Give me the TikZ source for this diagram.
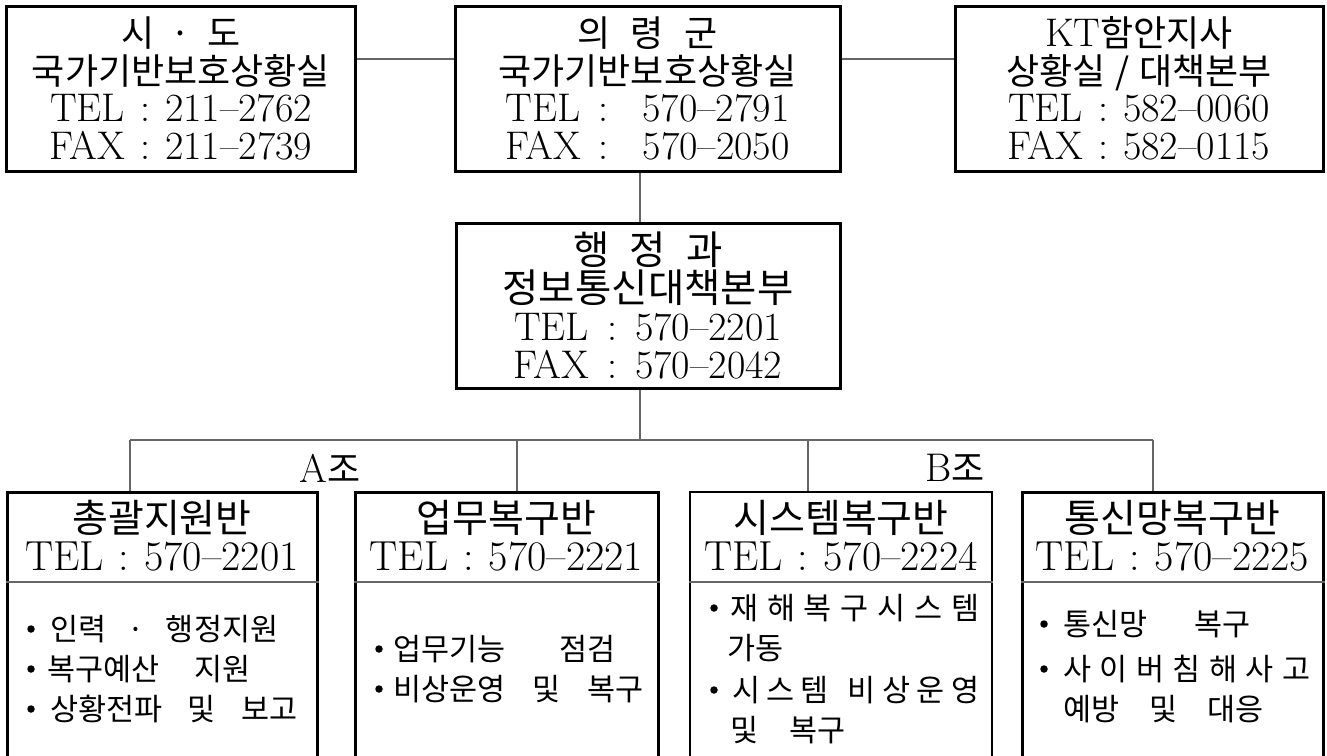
\documentclass[tikz,border=0pt]{standalone}
\usepackage{fontspec}
\newfontfamily\krfont{Noto Sans CJK KR}
\def\ksz{30}
\newcommand{\K}[1]{{\krfont\fontsize{\ksz}{\ksz}\selectfont #1}}
\newcommand{\LS}[2]{\makebox[#1][s]{#2}}
\begin{document}
\begin{tikzpicture}[x=1pt,y=-1pt,
  box/.style={draw=black, line width=3pt, inner sep=0pt, align=center},
  thinbox/.style={draw=black, line width=1.3pt, inner sep=0pt},
  conn/.style={draw=black!60, line width=1.2pt},
  divl/.style={draw=black!60, line width=1.2pt},
  toptxt/.style={font=\fontsize{40}{37.5}\selectfont\def\ksz{36}},
  midtxt/.style={font=\fontsize{40}{38}\selectfont\def\ksz{39.5}},
  ttl/.style={font=\fontsize{42}{40}\selectfont\def\ksz{39}, anchor=base, inner sep=0pt},
  itm/.style={font=\fontsize{33}{33}\selectfont\def\ksz{30.5}, anchor=base west, inner sep=0pt},
  bul/.style={circle, fill=black, inner sep=0pt, minimum size=7.5pt},
  grp/.style={font=\fontsize{40}{40}\selectfont\def\ksz{36}, inner sep=0pt}]
\useasboundingbox (0,0) rectangle (1327,755);
\clip (0,0) rectangle (1327,755);

% ---------- top row ----------
\node[box, toptxt, minimum width=349pt, minimum height=165pt] (sido) at (181,88.5)
  {\K{시\hspace{16pt}·\hspace{16pt}도}\\
   \K{국가기반보호상황실}\\
   TEL\hspace{15pt}:\hspace{15pt}211--2762\\
   FAX\hspace{15pt}:\hspace{15pt}211--2739};
\node[box, toptxt, minimum width=385pt, minimum height=165pt] (gun) at (647.5,88.5)
  {\K{의\hspace{20pt}령\hspace{20pt}군}\\
   \K{국가기반보호상황실}\\
   TEL\hspace{18pt}:\hspace{34pt}570--2791\\
   FAX\hspace{18pt}:\hspace{34pt}570--2050};
\node[box, toptxt, minimum width=368pt, minimum height=165pt] (kt) at (1139,88.5)
  {KT\K{함안지사}\\
   \K{상황실\hspace{10pt}/\hspace{10pt}대책본부}\\
   TEL\hspace{15pt}:\hspace{15pt}582--0060\\
   FAX\hspace{15pt}:\hspace{15pt}582--0115};

% ---------- middle ----------
\node[box, midtxt, minimum width=384pt, minimum height=165pt] (hq) at (648,305.5)
  {\K{행\hspace{20pt}정\hspace{20pt}과}\\
   \K{정보통신대책본부}\\
   TEL\hspace{18pt}:\hspace{18pt}570--2201\\
   FAX\hspace{18pt}:\hspace{18pt}570--2042};

% ---------- bottom boxes ----------
\node[box, minimum width=310pt, minimum height=320pt] (b1) at (162,652) {};
\node[box, minimum width=303pt, minimum height=320pt] (b2) at (506.5,652) {};
\node[thinbox, minimum width=302pt, minimum height=320pt] (b3) at (841,652) {};
\node[box, minimum width=301pt, minimum height=320pt] (b4) at (1172.5,652) {};

% dividers
\foreach \b in {b1,b2,b3,b4}
  \draw[divl] (\b.west |- 0,582) -- (\b.east |- 0,582);

% ---------- connectors ----------
\coordinate (j1) at (640,440);
\coordinate (bl) at (130,440);
\coordinate (br) at (1153,440);
\draw[conn] (sido.east |- 0,59) -- (gun.west |- 0,59);
\draw[conn] (gun.east |- 0,59) -- (kt.west |- 0,59);
\draw[conn] (640,0 |- gun.south) -- (640,0 |- hq.north);
\draw[conn] (640,0 |- hq.south) -- (j1);
\draw[conn] (bl) -- (br);
\draw[conn] (bl) -- (bl |- b1.north);
\draw[conn] (517,440) -- (517,0 |- b2.north);
\draw[conn] (808,440) -- (808,0 |- b3.north);
\draw[conn] (br) -- (br |- b4.north);

\node[grp] (ga) at (330,468) {A\K{조}};
\node[grp] (gb) at (955,468) {B\K{조}};

% ---------- titles ----------
\node[ttl] (t1) at (162,532) {\K{총괄지원반}};
\node[ttl] (p1) at (162,570) {TEL\hspace{15pt}:\hspace{15pt}570--2201};
\node[ttl] (t2) at (506.5,532) {\K{업무복구반}};
\node[ttl] (p2) at (506.5,570) {TEL\hspace{15pt}:\hspace{15pt}570--2221};
\node[ttl] (t3) at (841,532) {\K{시스템복구반}};
\node[ttl] (p3) at (841,570) {TEL\hspace{15pt}:\hspace{15pt}570--2224};
\node[ttl] (t4) at (1172.5,532) {\K{통신망복구반}};
\node[ttl] (p4) at (1172.5,570) {TEL\hspace{15pt}:\hspace{15pt}570--2225};

% ---------- items ----------
% box 1
\node[bul] (u11) at (31,629) {};
\node[itm] (i11) at (50,640) {\K{\LS{228pt}{인력\hfil·\hfil 행정지원}}};
\node[bul] (u12) at (31,669) {};
\node[itm] (i12) at (47,680) {\K{\LS{203pt}{복구예산\hfil 지원}}};
\node[bul] (u13) at (31,709) {};
\node[itm] (i13) at (50,720) {\K{\LS{247pt}{상황전파\hfil 및\hfil 보고}}};
% box 2
\node[bul] (u21) at (379,649) {};
\node[itm] (i21) at (393,660) {\K{\LS{222pt}{업무기능\hfil 점검}}};
\node[bul] (u22) at (379,689) {};
\node[itm] (i22) at (393,700) {\K{\LS{250pt}{비상운영\hfil 및\hfil 복구}}};
% box 3
\node[bul] (u31) at (714,608) {};
\node[itm] (i31) at (730,619) {\K{\LS{249pt}{재\hfil 해\hfil 복\hfil 구\hfil 시\hfil 스\hfil 템}}};
\node[itm] (i32) at (727,659) {\K{가동}};
\node[bul] (u33) at (714,690) {};
\node[itm] (i33) at (732,701) {\K{\LS{247pt}{시\hfil 스\hfil 템\hfil\hfil\hfil 비\hfil 상\hfil 운\hfil 영}}};
\node[itm] (i34) at (730,741) {\K{\LS{115pt}{및\hfil 복구}}};
% box 4
\node[bul] (u41) at (1044,624) {};
\node[itm] (i41) at (1063,635) {\K{\LS{187pt}{통신망\hfil 복구}}};
\node[bul] (u42) at (1044,669) {};
\node[itm] (i42) at (1063,680) {\K{\LS{247pt}{사\hfil 이\hfil 버\hfil 침\hfil 해\hfil 사\hfil 고}}};
\node[itm] (i43) at (1063,720) {\K{\LS{200pt}{예방\hfil 및\hfil 대응}}};
\end{tikzpicture}
\end{document}
